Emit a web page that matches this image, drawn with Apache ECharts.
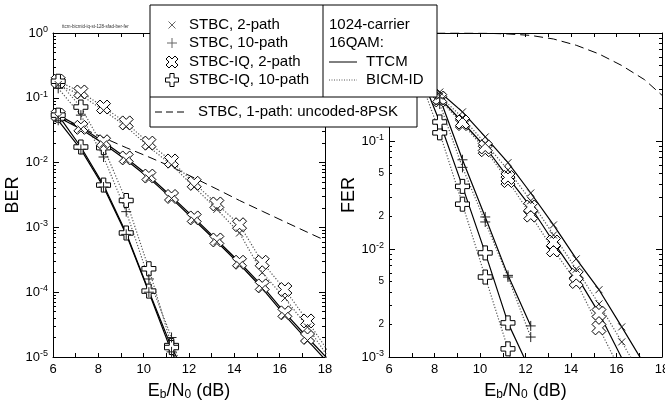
<!DOCTYPE html>
<html>
<head>
<meta charset="utf-8">
<script src="https://cdn.jsdelivr.net/npm/echarts@6/dist/echarts.min.js"></script>
<style>
  html, body { margin: 0; padding: 0; background: #fff; }
  #chart { width: 665px; height: 400px; }
</style>
</head>
<body>
<div id="chart"></div>
<script>
  // Eb/N0 points (dB)
  var snr = [6.23, 7.23, 8.23, 9.23, 10.23, 11.23, 12.23, 13.23, 14.23, 15.23, 16.23, 17.23, 18.23]

  // BER (left plot)
  var berStbc2Ttcm = [0.050, 0.033, 0.0195, 0.011, 0.0058, 0.0028, 0.0013, 0.0006, 0.00027, 0.000115, 4.4e-5, 1.8e-5, 7.5e-6]
  var berStbc10Ttcm = [0.045, 0.016, 0.0042, 0.00078, 0.0001, 1.2e-5, 2.5e-6]
  var berIq2Ttcm = [0.054, 0.035, 0.021, 0.0118, 0.0062, 0.0030, 0.0014, 0.00064, 0.00029, 0.000125, 4.8e-5, 2.0e-5, 8.5e-6]
  var berIq10Ttcm = [0.054, 0.0174, 0.0045, 0.00082, 0.000104, 1.4e-5, 3e-6]
  var berStbc2Bicm = [0.16, 0.11, 0.064, 0.036, 0.0175, 0.0092, 0.0042, 0.0019, 0.00082, 0.0002, 8.1e-5, 2.9e-5, 9e-6]
  var berStbc10Bicm = [0.14, 0.054, 0.0122, 0.00175, 0.00016, 2.0e-5, 1.5e-6]
  var berIq2Bicm = [0.18, 0.123, 0.072, 0.041, 0.020, 0.0106, 0.0048, 0.0023, 0.0011, 0.00029, 0.00011, 3.6e-5, 1.1e-5]
  var berIq10Bicm = [0.18, 0.072, 0.017, 0.0026, 0.00023, 1.5e-5, 1e-6]
  var berUncoded = [0.050, 0.0348, 0.0242, 0.0170, 0.0122, 0.0086, 0.0058, 0.0039, 0.0026, 0.00178, 0.00122, 0.00084, 0.00058]

  // FER (right plot)
  var ferStbc2Ttcm = [0.62, 0.42, 0.284, 0.186, 0.109, 0.063, 0.033, 0.0167, 0.0081, 0.0042, 0.0019, 0.00085]
  var ferStbc2Bicm = [0.60, 0.40, 0.26, 0.165, 0.095, 0.054, 0.028, 0.0135, 0.0065, 0.0031, 0.00138, 0.0006]
  var ferIq2Ttcm = [0.55, 0.38, 0.25, 0.15, 0.088, 0.046, 0.0245, 0.0116, 0.0057, 0.00255, 0.00098, 0.0004]
  var ferIq2Bicm = [0.53, 0.36, 0.24, 0.145, 0.083, 0.043, 0.0206, 0.0098, 0.0050, 0.00186, 0.00071, 0.0003]
  var ferStbc10Ttcm = [0.85, 0.6, 0.25, 0.067, 0.0198, 0.0057, 0.00194]
  var ferStbc10Bicm = [0.8, 0.55, 0.22, 0.057, 0.0178, 0.0055, 0.00153]
  var ferIq10Ttcm = [0.8, 0.5, 0.15, 0.038, 0.0092, 0.00207, 0.00073]
  var ferIq10Bicm = [0.75, 0.45, 0.119, 0.026, 0.0055, 0.00119, 0.0002]
  var ferUncoded = [1, 1, 1, 0.999, 0.995, 0.98, 0.95, 0.88, 0.77, 0.64, 0.5, 0.37, 0.24]

  // minor tick multiples per decade, and the ones labelled on the FER axis
  var minorMults = [2, 3, 4, 5, 6, 7, 8, 9]
  var ferMinorLabels = [2, 5]

  var FONT = 'Liberation Sans'

  function logMinors(lo, hi, mults) {
    var out = []
    for (var d = lo; d < hi; d++) {
      mults.forEach(function(m) { out.push(d + Math.log10(m)) })
    }
    return out
  }

  var symBigX = 'path://M0,2.5L2.5,0L5,2.5L7.5,0L10,2.5L7.5,5L10,7.5L7.5,10L5,7.5L2.5,10L0,7.5L2.5,5Z'
  var symBigPlus = 'path://M3.4,0L6.6,0L6.6,3.4L10,3.4L10,6.6L6.6,6.6L6.6,10L3.4,10L3.4,6.6L0,6.6L0,3.4L3.4,3.4Z'
  var symX = 'path://M0,0L10,10M10,0L0,10'
  var symPlus = 'path://M5,0L5,10M0,5L10,5'

  var solid = { color: '#000', width: 1.2, type: 'solid' }
  var dotted = { color: '#555', width: 1.2, type: [1.2, 1.8] }
  var dashed = { color: '#000', width: 1, type: [9, 5] }

  var marks = {
    x: { symbol: symX, symbolSize: 7, itemStyle: { color: 'rgba(0,0,0,0)', borderColor: '#222', borderWidth: 1 } },
    p: { symbol: symPlus, symbolSize: 10, itemStyle: { color: 'rgba(0,0,0,0)', borderColor: '#222', borderWidth: 1 } },
    X: { symbol: symBigX, symbolSize: 14, itemStyle: { color: '#fff', borderColor: '#000', borderWidth: 1 } },
    P: { symbol: symBigPlus, symbolSize: 14, itemStyle: { color: '#fff', borderColor: '#000', borderWidth: 1 } },
    none: { symbol: 'none' }
  }

  function line(name, ys, xi, yi, ls, mk) {
    var m = marks[mk]
    return {
      type: 'line',
      name: name,
      xAxisIndex: xi,
      yAxisIndex: yi,
      data: ys.map(function(y, i) { return [snr[i], y] }),
      symbol: m.symbol,
      symbolSize: m.symbolSize,
      showSymbol: m.symbol !== 'none',
      itemStyle: m.itemStyle,
      lineStyle: ls,
      clip: true,
      silent: true,
      z: 2
    }
  }

  function xAxes(grid, pos, label) {
    return {
      gridIndex: grid,
      type: 'value',
      position: pos,
      min: 6,
      max: 18,
      interval: 2,
      axisLine: { onZero: false, lineStyle: { color: '#000', width: 1 } },
      axisTick: { inside: true, length: 4, lineStyle: { color: '#000' } },
      minorTick: { show: true, splitNumber: 2, length: 4, lineStyle: { color: '#000' } },
      splitLine: { show: false },
      axisLabel: { show: label, color: '#000', fontSize: 13, fontFamily: FONT, margin: 6 },
      name: label ? 'E{sub|b}/N{sub|0} (dB)' : '',
      nameLocation: 'middle',
      nameGap: 16,
      nameTextStyle: {
        color: '#000', fontSize: 18, fontFamily: FONT, lineHeight: 20,
        rich: { sub: { fontSize: 12, fontFamily: FONT, lineHeight: 8, verticalAlign: 'bottom', color: '#000' } }
      }
    }
  }

  function logAxis(grid, pos, min, label, name) {
    return {
      gridIndex: grid,
      type: 'log',
      logBase: 10,
      position: pos,
      min: min,
      max: 1,
      splitNumber: Math.round(-Math.log10(min)),
      axisLine: { onZero: false, lineStyle: { color: '#000', width: 1 } },
      axisTick: { inside: true, length: 6, lineStyle: { color: '#000' } },
      splitLine: { show: false },
      axisLabel: {
        show: label, color: '#000', fontSize: 13, fontFamily: FONT, margin: 5, lineHeight: 16,
        formatter: function(v) { return '10{sup|' + Math.round(Math.log10(v)) + '}' },
        rich: { sup: { fontSize: 9, fontFamily: FONT, lineHeight: 8, verticalAlign: 'top', color: '#000' } }
      },
      name: name || '',
      nameLocation: 'middle',
      nameRotate: 90,
      nameGap: 28,
      nameTextStyle: { color: '#000', fontSize: 18, fontFamily: FONT }
    }
  }

  function minorAxis(grid, pos, lo, labels) {
    return {
      gridIndex: grid,
      type: 'value',
      position: pos,
      min: lo,
      max: 0,
      axisLine: { show: false, onZero: false },
      axisTick: { inside: true, length: 3, lineStyle: { color: '#000' }, customValues: logMinors(lo, 0, minorMults) },
      splitLine: { show: false },
      axisLabel: {
        show: !!labels, color: '#000', fontSize: 10, fontFamily: FONT, margin: 5,
        customValues: labels ? logMinors(lo, 0, labels) : undefined,
        formatter: function(v) { return String(Math.round(Math.pow(10, v - Math.floor(v + 1e-9)))) }
      }
    }
  }

  // legend icons
  function bigXPts(cx, cy, s) {
    var p = [[0, 2.5], [2.5, 0], [5, 2.5], [7.5, 0], [10, 2.5], [7.5, 5], [10, 7.5], [7.5, 10], [5, 7.5], [2.5, 10], [0, 7.5], [2.5, 5]]
    return p.map(function(q) { return [cx + (q[0] - 5) * s / 10, cy + (q[1] - 5) * s / 10] })
  }
  function bigPlusPts(cx, cy, s) {
    var p = [[3.4, 0], [6.6, 0], [6.6, 3.4], [10, 3.4], [10, 6.6], [6.6, 6.6], [6.6, 10], [3.4, 10], [3.4, 6.6], [0, 6.6], [0, 3.4], [3.4, 3.4]]
    return p.map(function(q) { return [cx + (q[0] - 5) * s / 10, cy + (q[1] - 5) * s / 10] })
  }
  function txt(x, y, s, size) {
    return { type: 'text', x: x, y: y, z: 101, style: { text: s, fill: '#000', fontSize: size || 15, fontFamily: FONT, align: 'left', verticalAlign: 'middle' } }
  }
  function seg(x1, y1, x2, y2, st) {
    return { type: 'line', z: 101, shape: { x1: x1, y1: y1, x2: x2, y2: y2 }, style: Object.assign({ stroke: '#000', lineWidth: 1 }, st || {}) }
  }

  var legendBox = [
    { type: 'polygon', z: 100, shape: { points: [[150, 5], [437, 5], [437, 97], [417, 97], [417, 127], [150, 127]] }, style: { fill: '#fff', stroke: '#000', lineWidth: 1 } },
    seg(150, 97, 417, 97),
    seg(323, 5, 323, 97),
    seg(168.5, 21.5, 175.5, 28.5, { stroke: '#666' }), seg(175.5, 21.5, 168.5, 28.5, { stroke: '#666' }),
    seg(172, 38, 172, 48, { stroke: '#666' }), seg(167, 43, 177, 43, { stroke: '#666' }),
    { type: 'polygon', z: 101, shape: { points: bigXPts(172, 62, 12) }, style: { fill: '#fff', stroke: '#000', lineWidth: 1 } },
    { type: 'polygon', z: 101, shape: { points: bigPlusPts(172, 80, 13) }, style: { fill: '#fff', stroke: '#000', lineWidth: 1 } },
    txt(189, 25, 'STBC, 2-path'),
    txt(189, 43, 'STBC, 10-path'),
    txt(189, 62, 'STBC-IQ, 2-path'),
    txt(189, 80, 'STBC-IQ, 10-path'),
    txt(329, 25, '1024-carrier'),
    txt(329, 43, '16QAM:'),
    seg(329, 62, 357, 62),
    txt(366, 62, 'TTCM'),
    seg(329, 80, 357, 80, { stroke: '#555', lineDash: [1, 1.5] }),
    txt(366, 80, 'BICM-ID'),
    seg(155, 112, 187, 112, { lineDash: [7, 4] }),
    txt(198, 112, 'STBC, 1-path: uncoded-8PSK'),
    { type: 'text', x: 62, y: 27, z: 101, style: { text: 'ttcm-bicmid-iq-st-128-sfad-ber-fer', fill: '#333', fontSize: 4.5, fontFamily: FONT, verticalAlign: 'middle' } }
  ]

  var chart = echarts.init(document.getElementById('chart'), null, { renderer: 'canvas' })
  chart.setOption({
    animation: false,
    backgroundColor: '#fff',
    textStyle: { fontFamily: FONT },
    grid: [
      { left: 53, top: 33, width: 272, height: 324, containLabel: false, outerBoundsMode: 'none' },
      { left: 389, top: 33, width: 273, height: 324, containLabel: false, outerBoundsMode: 'none' }
    ],
    xAxis: [xAxes(0, 'bottom', true), xAxes(0, 'top', false), xAxes(1, 'bottom', true), xAxes(1, 'top', false)],
    yAxis: [
      logAxis(0, 'left', 1e-5, true, 'BER'),
      logAxis(0, 'right', 1e-5, false),
      minorAxis(0, 'left', -5),
      minorAxis(0, 'right', -5),
      logAxis(1, 'left', 1e-3, true, 'FER'),
      logAxis(1, 'right', 1e-3, false),
      minorAxis(1, 'left', -3, ferMinorLabels),
      minorAxis(1, 'right', -3)
    ],
    graphic: { elements: legendBox },
    series: [
      line('BER uncoded', berUncoded, 0, 0, dashed, 'none'),
      line('BER IQ2 BICM', berIq2Bicm, 0, 0, dotted, 'X'),
      line('BER IQ10 BICM', berIq10Bicm, 0, 0, dotted, 'P'),
      line('BER IQ2 TTCM', berIq2Ttcm, 0, 0, solid, 'X'),
      line('BER IQ10 TTCM', berIq10Ttcm, 0, 0, solid, 'P'),
      line('BER STBC2 BICM', berStbc2Bicm, 0, 0, dotted, 'x'),
      line('BER STBC10 BICM', berStbc10Bicm, 0, 0, dotted, 'p'),
      line('BER STBC2 TTCM', berStbc2Ttcm, 0, 0, solid, 'x'),
      line('BER STBC10 TTCM', berStbc10Ttcm, 0, 0, solid, 'p'),
      line('FER uncoded', ferUncoded, 2, 4, dashed, 'none'),
      line('FER IQ2 BICM', ferIq2Bicm, 2, 4, dotted, 'X'),
      line('FER IQ10 BICM', ferIq10Bicm, 2, 4, dotted, 'P'),
      line('FER IQ2 TTCM', ferIq2Ttcm, 2, 4, solid, 'X'),
      line('FER IQ10 TTCM', ferIq10Ttcm, 2, 4, solid, 'P'),
      line('FER STBC2 BICM', ferStbc2Bicm, 2, 4, dotted, 'x'),
      line('FER STBC10 BICM', ferStbc10Bicm, 2, 4, dotted, 'p'),
      line('FER STBC2 TTCM', ferStbc2Ttcm, 2, 4, solid, 'x'),
      line('FER STBC10 TTCM', ferStbc10Ttcm, 2, 4, solid, 'p')
    ]
  })
</script>
</body>
</html>
